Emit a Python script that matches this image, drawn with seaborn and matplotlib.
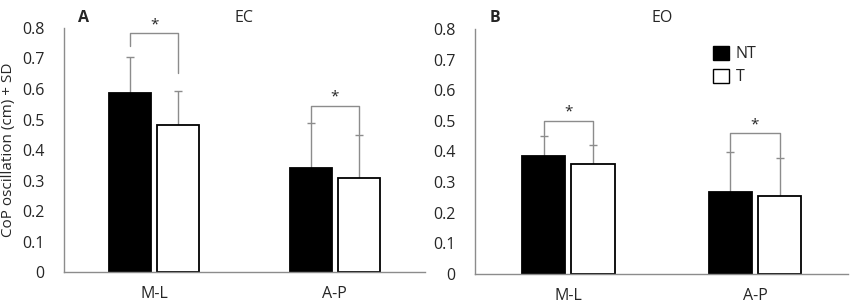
import matplotlib
matplotlib.use("Agg")
import matplotlib.pyplot as plt
import seaborn as sns
import pandas as pd
from matplotlib.patches import Patch

sns.set_style("white")
plt.rcParams['font.family'] = ['Open Sans', 'DejaVu Sans']

directions = ["M-L", "A-P"]
groups = ["NT", "T"]
ec_mean = {"NT": [0.588, 0.342], "T": [0.483, 0.307]}
ec_sd = {"NT": [0.117, 0.148], "T": [0.109, 0.141]}
eo_mean = {"NT": [0.385, 0.268], "T": [0.360, 0.253]}
eo_sd = {"NT": [0.065, 0.129], "T": [0.060, 0.127]}
# bracket height, left drop, right drop for each direction
ec_brackets = [(0.782, 0.742, 0.652), (0.545, 0.49, 0.452)]
eo_brackets = [(0.500, 0.452, 0.422), (0.460, 0.40, 0.382)]

fig = plt.figure(figsize=(8.5, 3.04), dpi=100)
ax_a = fig.add_axes([0.075, 0.105, 0.425, 0.803])
ax_b = fig.add_axes([0.559, 0.099, 0.439, 0.806])


def panel(ax, means, sds, brackets, letter, title, ylabel=None, legend=False):
    df = pd.DataFrame({
        "direction": directions * 2,
        "group": ["NT"] * 2 + ["T"] * 2,
        "value": means["NT"] + means["T"],
    })
    sns.barplot(data=df, x="direction", y="value", hue="group", order=directions,
                hue_order=groups, palette={"NT": "black", "T": "white"},
                width=0.53, gap=0.12, edgecolor="black", linewidth=1.3,
                errorbar=None, legend=False, ax=ax, zorder=2)
    bars = ax.patches
    centers = {}
    for gi, g in enumerate(groups):
        for di in range(len(directions)):
            p = bars[gi * len(directions) + di]
            cx = p.get_x() + p.get_width() / 2
            centers[(g, di)] = cx
            ax.errorbar(cx, means[g][di], yerr=[[0.02], [sds[g][di]]], fmt="none",
                        ecolor="#8c8c8c", elinewidth=1.0, capsize=3, capthick=1.0, zorder=1)
    for di, (h, l, r) in enumerate(brackets):
        x0, x1 = centers[("NT", di)], centers[("T", di)]
        ax.plot([x0, x0, x1, x1], [l, h, h, r], color="#8c8c8c", lw=1.0)
        ax.text((x0 + x1) / 2, h + 0.003, "*", ha="center", va="bottom", fontsize=11)
    ax.set_ylim(0, 0.8)
    ax.set_xlim(-0.5, 1.5)
    ax.set_yticks([i / 10 for i in range(9)])
    ax.set_yticklabels(["0"] + [f"{i / 10:.1f}" for i in range(1, 9)])
    ax.tick_params(axis="both", length=0, labelsize=11.5)
    ax.tick_params(axis="y", pad=14)
    ax.tick_params(axis="x", pad=10)
    ax.set_xlabel("")
    ax.set_ylabel(ylabel if ylabel else "", fontsize=11, labelpad=4)
    sns.despine(ax=ax)
    for s in ["left", "bottom"]:
        ax.spines[s].set_color("#8c8c8c")
        ax.spines[s].set_linewidth(1.0)
    ax.text(0.04, 1.01, letter, transform=ax.transAxes, fontsize=11.5, fontweight="bold",
            va="bottom")
    ax.text(0.5, 1.01, title, transform=ax.transAxes, fontsize=11.5, ha="center", va="bottom")
    if legend:
        handles = [Patch(facecolor="black", edgecolor="black", label="NT"),
                   Patch(facecolor="white", edgecolor="black", label="T")]
        ax.legend(handles=handles, loc="upper left", bbox_to_anchor=(0.6, 0.99),
                  frameon=False, fontsize=11.5, handlelength=1.0, handleheight=1.0,
                  handletextpad=0.4, labelspacing=0.4)


panel(ax_a, ec_mean, ec_sd, ec_brackets, "A", "EC", ylabel="CoP oscillation (cm) + SD")
panel(ax_b, eo_mean, eo_sd, eo_brackets, "B", "EO", legend=True)

fig.savefig("out.png", dpi=100)
